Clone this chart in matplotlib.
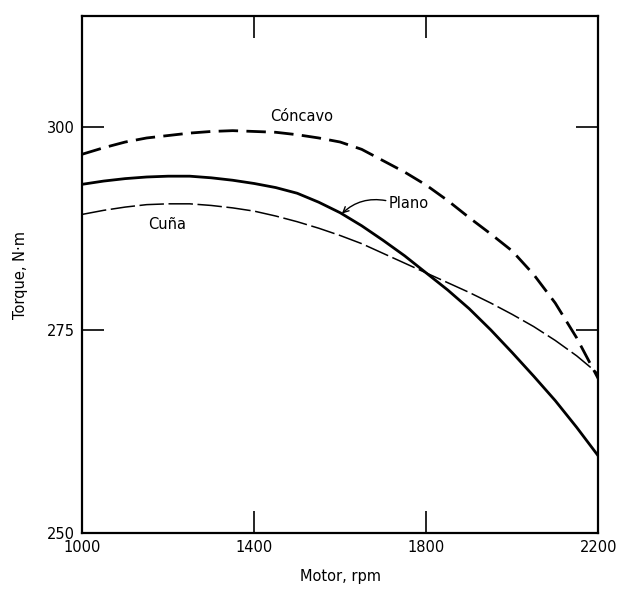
import numpy as np
import matplotlib
matplotlib.use("Agg")
import matplotlib.pyplot as plt

# torque curves (rpm, N.m)
rpm = [1000, 1050, 1100, 1150, 1200, 1250, 1300, 1350, 1400, 1450, 1500, 1550, 1600,
       1650, 1700, 1750, 1800, 1850, 1900, 1950, 2000, 2050, 2100, 2150, 2200]
concavo = [296.6, 297.4, 298.1, 298.6, 298.9, 299.2, 299.4, 299.5, 299.4, 299.3, 299.0, 298.6, 298.1,
           297.2, 295.8, 294.4, 292.8, 290.9, 288.8, 286.8, 284.7, 281.8, 278.3, 274.0, 269.0]
plano = [292.9, 293.3, 293.6, 293.8, 293.9, 293.9, 293.7, 293.4, 293.0, 292.5, 291.8, 290.7, 289.4,
         287.8, 286.0, 284.1, 282.0, 279.9, 277.6, 275.0, 272.2, 269.3, 266.3, 263.0, 259.5]
cuna = [289.2, 289.7, 290.1, 290.4, 290.5, 290.5, 290.3, 290.0, 289.6, 289.0, 288.3, 287.5, 286.6,
        285.6, 284.4, 283.2, 282.0, 280.8, 279.6, 278.3, 276.9, 275.4, 273.7, 271.8, 269.6]

xticks = [1000, 1400, 1800, 2200]
yticks = [250, 275, 300]

plt.rcParams['font.family'] = ['DejaVu Sans']

fig = plt.figure(figsize=(6.18, 5.93), dpi=100)
ax = fig.add_axes([0.133, 0.101, 0.835, 0.872])

ax.plot(rpm, concavo, color='black', lw=2.0, dashes=(7, 3))
ax.plot(rpm, plano, color='black', lw=2.0)
ax.plot(rpm, cuna, color='black', lw=1.1, dashes=(16, 3))

ax.set_xlim(1000, 2200)
ax.set_ylim(250, 313.6)
ax.set_xticks(xticks)
ax.set_yticks(yticks)
ax.tick_params(direction='in', length=16, width=1.2, labelsize=10.5,
               top=True, right=True, pad=5)
for s in ax.spines.values():
    s.set_linewidth(1.6)

ax.text(1510, 301.3, 'Cóncavo', fontsize=10.5, ha='center', va='center')
ax.text(1198, 287.9, 'Cuña', fontsize=10.5, ha='center', va='center')
ax.text(1712, 290.6, 'Plano', fontsize=10.5, ha='left', va='center')
ax.annotate('', xy=(1604, 289.3), xytext=(1706, 290.9),
            arrowprops=dict(arrowstyle='->', color='black', lw=1.0,
                            connectionstyle='arc3,rad=0.25',
                            shrinkA=0, shrinkB=0))

ax.set_xlabel('Motor, rpm', fontsize=10.5, labelpad=10)
ax.set_ylabel('Torque, N·m', fontsize=10.5, labelpad=14)

fig.savefig('out.png', dpi=100)
